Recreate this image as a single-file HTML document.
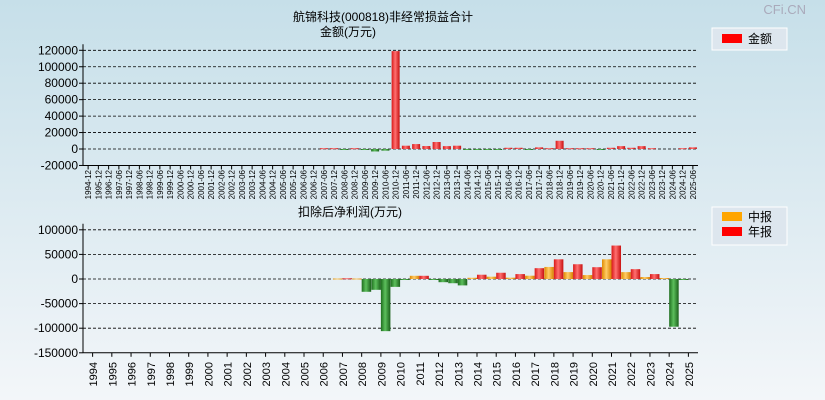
<!DOCTYPE html>
<html><head><meta charset="utf-8"><style>
body{margin:0;width:825px;height:400px;overflow:hidden;font-family:"Liberation Sans","Noto Sans CJK SC",sans-serif;}
svg{display:block}
text{font-family:"Liberation Sans","Noto Sans CJK SC",sans-serif;}
</style></head><body>
<svg id="c" width="825" height="400" xmlns="http://www.w3.org/2000/svg">
<defs>
<linearGradient id="bg" x1="0" y1="0" x2="0" y2="1"><stop offset="0" stop-color="#c6dfe9"/><stop offset="1" stop-color="#f3f6f9"/></linearGradient>
<linearGradient id="gr" x1="0" y1="0" x2="1" y2="0"><stop offset="0" stop-color="#d81818"/><stop offset="0.45" stop-color="#ff7070"/><stop offset="1" stop-color="#c81010"/></linearGradient>
<linearGradient id="gg" x1="0" y1="0" x2="1" y2="0"><stop offset="0" stop-color="#1e6e1e"/><stop offset="0.45" stop-color="#5cbf5c"/><stop offset="1" stop-color="#1a601a"/></linearGradient>
<linearGradient id="go" x1="0" y1="0" x2="1" y2="0"><stop offset="0" stop-color="#e08a00"/><stop offset="0.45" stop-color="#ffcc66"/><stop offset="1" stop-color="#d88000"/></linearGradient>
</defs>
<rect width="825" height="400" fill="url(#bg)"/>
<text x="806" y="14" font-size="13" fill="#aab" text-anchor="end">CFi.CN</text>
<text x="383" y="21" font-size="12" text-anchor="middle" fill="#000">航锦科技(000818)非经常损益合计</text>
<text x="348" y="36" font-size="12" text-anchor="middle" fill="#000">金额(万元)</text>
<text x="350" y="216" font-size="12" text-anchor="middle" fill="#000">扣除后净利润(万元)</text>
<g>
<rect x="712" y="28" width="75" height="22" fill="#dde6ee" stroke="#fff"/>
<rect x="722" y="34" width="20" height="9" fill="#f00"/>
<text x="748" y="43" font-size="12">金额</text>
</g>
<g>
<rect x="712" y="207" width="75" height="38" fill="#dde6ee" stroke="#fff"/>
<rect x="722" y="212" width="20" height="9" fill="#ffa500"/>
<text x="748" y="221" font-size="12">中报</text>
<rect x="722" y="227" width="20" height="9" fill="#f00"/>
<text x="748" y="236" font-size="12">年报</text>
</g>
<g id="top"></g><g id="bot"></g>
</svg>
<script>
const topCats=["1994-12","1995-12","1996-12","1997-06","1997-12","1998-06","1998-12","1999-06","1999-12","2000-06","2000-12","2001-06","2001-12","2002-06","2002-12","2003-06","2003-12","2004-06","2004-12","2005-06","2005-12","2006-06","2006-12","2007-06","2007-12","2008-06","2008-12","2009-06","2009-12","2010-06","2010-12","2011-06","2011-12","2012-06","2012-12","2013-06","2013-12","2014-06","2014-12","2015-06","2015-12","2016-06","2016-12","2017-06","2017-12","2018-06","2018-12","2019-06","2019-12","2020-06","2020-12","2021-06","2021-12","2022-06","2022-12","2023-06","2023-12","2024-06","2024-12","2025-06"];
const topVals=[null,null,null,null,null,null,null,null,null,null,null,null,null,null,null,null,null,null,null,null,null,null,null,1000,1000,-500,1000,-1000,-3000,-2000,119000,4000,6000,3600,8500,3500,4000,-500,-500,-500,-500,1500,1500,-500,2000,1000,10000,1000,1000,1000,-500,1500,3500,1500,3500,1000,0,0,1000,2000];
const topTicks=[120000,100000,80000,60000,40000,20000,0,-20000];
const years=["1994","1995","1996","1997","1998","1999","2000","2001","2002","2003","2004","2005","2006","2007","2008","2009","2010","2011","2012","2013","2014","2015","2016","2017","2018","2019","2020","2021","2022","2023","2024","2025"];
const midVals=[null,null,null,null,null,null,null,null,null,null,null,null,null,1000,1000,-22000,-16000,6500,-1000,-8600,2500,4700,2700,6700,24500,14000,8000,40000,14000,4000,2000,-1000];
const annVals=[null,null,null,null,null,null,null,null,null,null,null,null,null,1500,-26000,-106000,-2000,6500,-6500,-13000,8700,12700,10000,22000,40000,30000,24000,68000,20000,10000,-97000,null];
const botTicks=[100000,50000,0,-50000,-100000,-150000];
const NS="http://www.w3.org/2000/svg";
function mk(p,t,a,txt){const e=document.createElementNS(NS,t);for(const k in a)e.setAttribute(k,a[k]);if(txt!=null)e.textContent=txt;p.appendChild(e);return e;}
const X0=83,X1=698;
function chart(G,ticks,yf,cats,labFont,labY,prefix){
  const yMin=yf(ticks[ticks.length-1]);
  ticks.forEach((v,k)=>{
    const y=yf(v);
    if(k<ticks.length-1){
      const g=mk(G,'line',{x1:X0,y1:y,x2:X1,y2:y,stroke:'#000','stroke-dasharray':'3,2','stroke-width':0.8});
      
      
    }
    mk(G,'line',{x1:X0-4,y1:y,x2:X0,y2:y,stroke:'#000'});
    const t=mk(G,'text',{x:78,y:y+4,'font-size':12,'text-anchor':'end'},String(v));
    
    
  });
  const ax=mk(G,'line',{x1:X0,y1:yf(ticks[0])-6,x2:X0,y2:yMin,stroke:'#000'});
  
  
  const xa=mk(G,'line',{x1:X0,y1:yMin,x2:X1,y2:yMin,stroke:'#000'});
  
  
  const w=(X1-X0)/cats.length;
  cats.forEach((c,i)=>{
    const cx=X0+w*(i+0.5);
    mk(G,'line',{x1:cx,y1:yMin,x2:cx,y2:yMin+4,stroke:'#000'});
    const t=mk(G,'text',{x:0,y:0,'font-size':labFont,transform:`translate(${cx+labFont/2-1},${labY}) rotate(-90)`,'text-anchor':'end'},c);
    
    
  });
  return w;
}
const T=document.getElementById('top');
const ty=v=>149-(v)*(16.45/20000);
const tw=chart(T,topTicks,ty,topCats,8,170,'top');
topCats.forEach((c,i)=>{
  const cx=X0+tw*(i+0.5);
  const v=topVals[i];
  if(v==null||v===0)return;
  const y0=ty(0),y1=ty(v);
  const r=mk(T,'rect',{x:cx-4,y:Math.min(y0,y1),width:8,height:Math.max(1,Math.abs(y1-y0)),fill:v>=0?'url(#gr)':'url(#gg)'});
  
  
});
const B=document.getElementById('bot');
const by=v=>279-v*(24.6/50000);
const bw=chart(B,botTicks,by,years,11,362,'bottom');
years.forEach((yr,i)=>{
  const cx=X0+bw*(i+0.5);
  [[midVals[i],cx-9.5,'url(#go)','mid'],[annVals[i],cx,'url(#gr)','annual']].forEach(([v,x,f,k])=>{
    if(v==null)return;
    const y0=by(0),y1=by(v);
    const r=mk(B,'rect',{x:x,y:Math.min(y0,y1),width:9.5,height:Math.max(1,Math.abs(y1-y0)),fill:v>=0?f:'url(#gg)'});
    
    
  });
});
</script>
</body></html>
